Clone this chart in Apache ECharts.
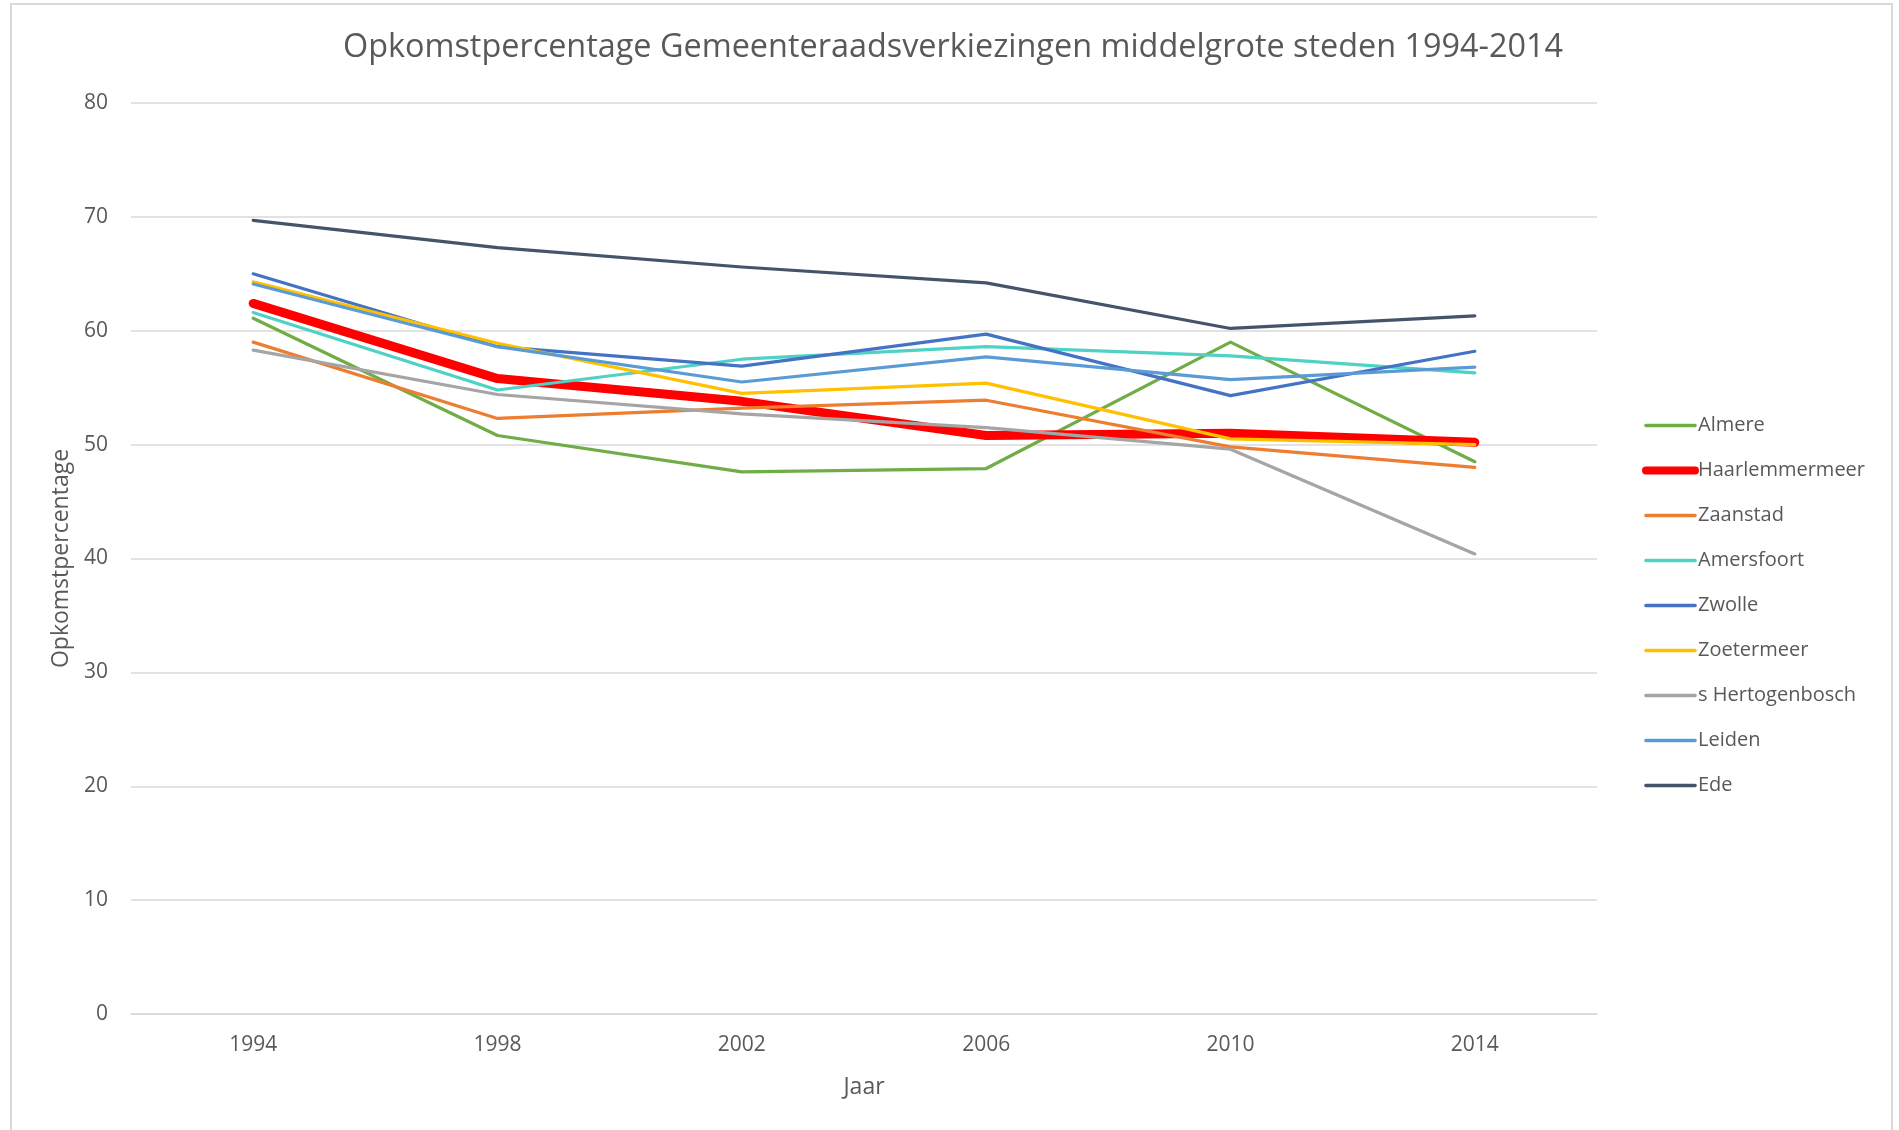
<!DOCTYPE html>
<html>
<head>
<meta charset="utf-8">
<title>Opkomstpercentage</title>
<script src="https://cdn.jsdelivr.net/npm/echarts@6/dist/echarts.min.js"></script>
<style>
  html, body { margin: 0; padding: 0; background: #fff; }
  #frame {
    position: absolute; left: 10px; top: 3px; width: 1883px; height: 1200px;
    border: 2px solid #d9d9d9; box-sizing: border-box;
  }
  #chart { position: absolute; left: 0; top: 0; width: 1899px; height: 1130px; }
</style>
</head>
<body>
<div id="frame"></div>
<div id="chart"></div>
<script>
// data
const years = ['1994', '1998', '2002', '2006', '2010', '2014']
const yTicks = [0, 10, 20, 30, 40, 50, 60, 70, 80]

const almere = [61.1, 50.8, 47.6, 47.9, 59.0, 48.5]
const haarlemmermeer = [62.4, 55.8, 53.8, 50.8, 51.0, 50.2]
const zaanstad = [59.0, 52.3, 53.2, 53.9, 49.8, 48.0]
const amersfoort = [61.6, 54.8, 57.5, 58.6, 57.8, 56.3]
const zwolle = [65.0, 58.6, 56.9, 59.7, 54.3, 58.2]
const zoetermeer = [64.3, 58.9, 54.5, 55.4, 50.5, 50.0]
const hertogenbosch = [58.3, 54.4, 52.7, 51.5, 49.6, 40.4]
const leiden = [64.1, 58.6, 55.5, 57.7, 55.7, 56.8]
const ede = [69.7, 67.3, 65.6, 64.2, 60.2, 61.3]

const seriesDefs = [
  { name: 'Almere', data: almere, color: '#70ad47', width: 3.2 },
  { name: 'Haarlemmermeer', data: haarlemmermeer, color: '#ff0000', width: 9 },
  { name: 'Zaanstad', data: zaanstad, color: '#ed7d31', width: 3.2 },
  { name: 'Amersfoort', data: amersfoort, color: '#4fd1c5', width: 3.2 },
  { name: 'Zwolle', data: zwolle, color: '#4472c4', width: 3.2 },
  { name: 'Zoetermeer', data: zoetermeer, color: '#ffc000', width: 3.2 },
  { name: 's Hertogenbosch', data: hertogenbosch, color: '#a5a5a5', width: 3.2 },
  { name: 'Leiden', data: leiden, color: '#5b9bd5', width: 3.2 },
  { name: 'Ede', data: ede, color: '#44546a', width: 3.2 }
]

const textColor = '#595959'
const gridColor = '#d9d9d9'
const font = '"Open Sans", "Noto Sans", sans-serif'

const chart = echarts.init(document.getElementById('chart'))
chart.setOption({
  animation: false,
  textStyle: { fontFamily: font },
  color: seriesDefs.map(s => s.color),
  title: {
    text: 'Opkomstpercentage Gemeenteraadsverkiezingen middelgrote steden 1994-2014',
    left: 948,
    textAlign: 'center',
    top: 27,
    textStyle: { fontFamily: font, fontSize: 32.4, fontWeight: 'normal', color: textColor }
  },
  legend: {
    orient: 'vertical',
    left: 1637,
    top: 410,
    itemWidth: 49,
    itemHeight: 4,
    itemGap: 24,
    itemStyle: { opacity: 0 },
    textStyle: { fontFamily: font, fontSize: 20, color: textColor, lineHeight: 21, padding: [0, 0, 0, -2] },
    data: seriesDefs.map(s => ({
      name: s.name,
      lineStyle: { color: s.color, width: s.width > 5 ? 8 : 3.6, cap: 'round' }
    }))
  },
  grid: { left: 131, right: 302, top: 103, bottom: 116 },
  xAxis: {
    type: 'category',
    data: years,
    boundaryGap: true,
    name: 'Jaar',
    nameLocation: 'middle',
    nameGap: 62,
    nameTextStyle: { fontFamily: font, fontSize: 23, color: textColor },
    axisLine: { lineStyle: { color: gridColor, width: 1.5 } },
    axisTick: { show: false },
    axisLabel: { fontFamily: font, fontSize: 21, color: textColor, margin: 21 }
  },
  yAxis: {
    type: 'value',
    min: yTicks[0],
    max: yTicks[yTicks.length - 1],
    interval: 10,
    name: 'Opkomstpercentage',
    nameLocation: 'middle',
    nameGap: 56,
    nameRotate: 90,
    nameTextStyle: { fontFamily: font, fontSize: 23, color: textColor },
    axisLine: { show: false },
    axisTick: { show: false },
    axisLabel: { fontFamily: font, fontSize: 21, color: textColor, margin: 23 },
    splitLine: { lineStyle: { color: gridColor, width: 1.5 } }
  },
  series: seriesDefs.map(s => ({
    name: s.name,
    type: 'line',
    data: s.data,
    symbol: 'none',
    lineStyle: { color: s.color, width: s.width, cap: 'round', join: 'round' },
    itemStyle: { color: s.color }
  }))
})
</script>
</body>
</html>
